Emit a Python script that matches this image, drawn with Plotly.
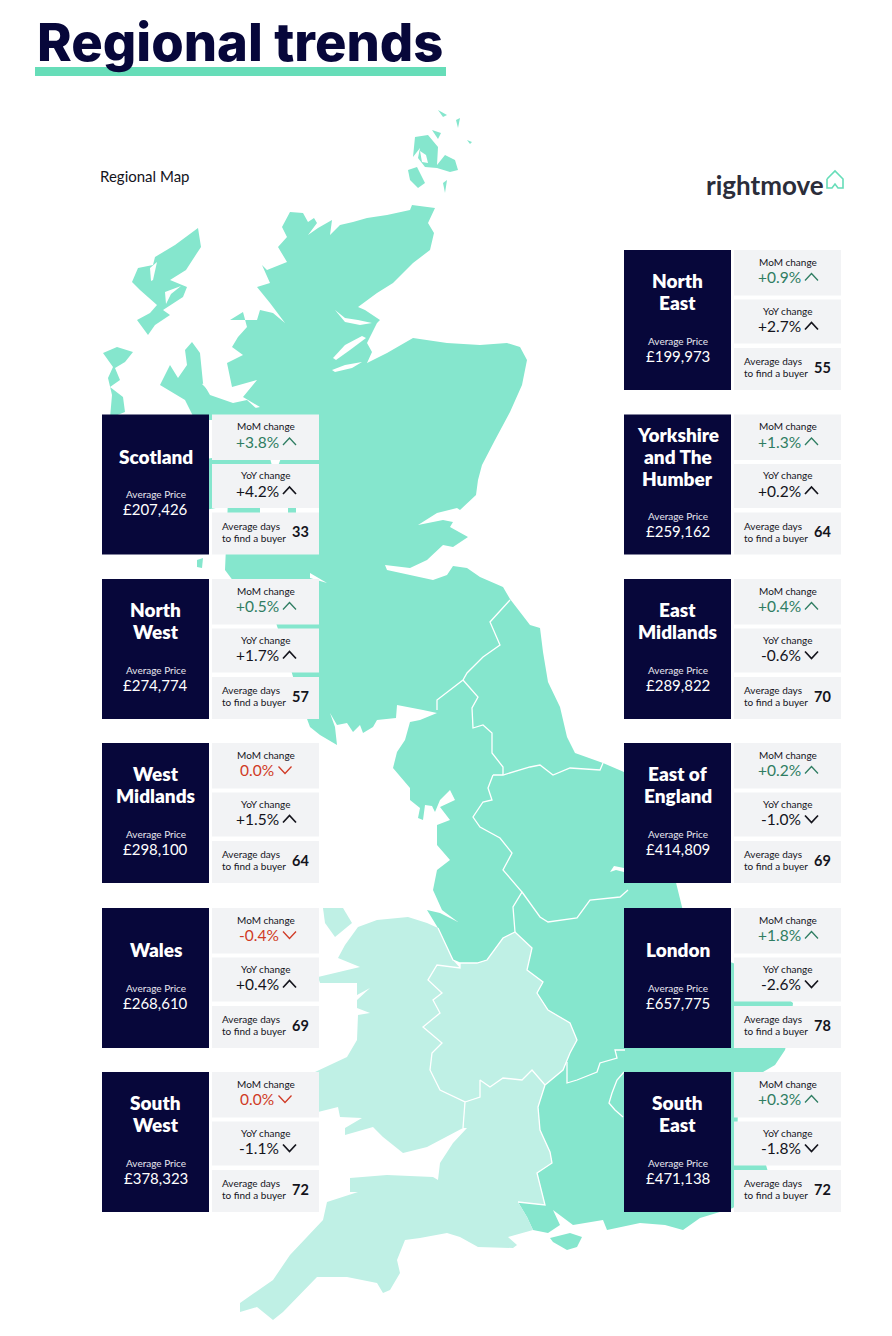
"""
Regional trends infographic: house prices by region on a map of Great Britain
"""

import plotly.graph_objects as go

# Card data, left column then right column
left_regions = ["Scotland", "North<br>West", "West<br>Midlands", "Wales", "South<br>West"]
left_prices = [207426, 274774, 298100, 268610, 378323]
left_mom = [3.8, 0.5, 0.0, -0.4, 0.0]
left_yoy = [4.2, 1.7, 1.5, 0.4, -1.1]
left_days = [33, 57, 64, 69, 72]

right_regions = ["North<br>East", "Yorkshire<br>and The<br>Humber", "East<br>Midlands",
                 "East of<br>England", "London", "South<br>East"]
right_prices = [199973, 259162, 289822, 414809, 657775, 471138]
right_mom = [0.9, 1.3, 0.4, 0.2, 1.8, 0.3]
right_yoy = [2.7, 0.2, -0.6, -1.0, -2.6, -1.8]
right_days = [55, 64, 70, 69, 78, 72]

# Map outlines, as (x, y) page pixels
deep_land = [
    (290, 212), (303, 213), (308, 222), (314, 218), (317, 223), (308, 235), (318, 228), (332, 220),
    (330, 235), (340, 225), (353, 222), (367, 218), (387, 215), (410, 210), (412, 205), (435, 208),
    (428, 223), (434, 233), (430, 250), (413, 263), (393, 283), (377, 293), (358, 307), (365, 310),
    (380, 320), (377, 323), (367, 343), (372, 352), (367, 363), (387, 353), (413, 338), (447, 343),
    (480, 345), (507, 343), (520, 347), (527, 360), (522, 385), (510, 412), (495, 440), (482, 465),
    (478, 480), (476, 495), (460, 510), (457, 508), (437, 513), (418, 525), (443, 520), (453, 522),
    (450, 527), (468, 537), (453, 547), (443, 545), (427, 560), (410, 568), (385, 565), (387, 570),
    (410, 575), (433, 580), (447, 575), (453, 566), (467, 568), (480, 577), (503, 587), (510, 599),
    (530, 625), (540, 628), (543, 652), (548, 682), (560, 707), (567, 737), (575, 753), (603, 763),
    (624, 772), (650, 800), (668, 850), (675, 880), (682, 907), (690, 935), (710, 955), (733, 963),
    (760, 975), (793, 1003), (790, 1030), (785, 1050), (775, 1065), (763, 1072), (750, 1090),
    (738, 1110), (737, 1140), (745, 1155), (766, 1165), (768, 1172), (745, 1195), (733, 1208),
    (700, 1218), (683, 1230), (665, 1225), (640, 1223), (607, 1230), (603, 1220), (573, 1225),
    (553, 1210), (560, 1225), (548, 1233), (533, 1230), (527, 1217), (518, 1202), (545, 1205),
    (537, 1173), (552, 1163), (550, 1152), (540, 1130), (538, 1107), (545, 1085), (563, 1070),
    (570, 1053), (577, 1040), (570, 1023), (548, 1010), (537, 993), (543, 982), (527, 970),
    (532, 948), (515, 932), (503, 938), (487, 960), (477, 963), (460, 963), (453, 960), (438, 928),
    (427, 910), (440, 913), (458, 922), (442, 910), (433, 890), (437, 870), (450, 860), (437, 845),
    (437, 825), (450, 820), (440, 807), (455, 800), (450, 790), (440, 800), (435, 812), (432, 806),
    (425, 805), (423, 820), (418, 818), (420, 808), (410, 800), (410, 788), (393, 768), (397, 752),
    (405, 740), (410, 722), (420, 720), (437, 713), (423, 710), (397, 705), (396, 718), (377, 720),
    (373, 727), (363, 733), (360, 725), (353, 732), (347, 723), (337, 725), (330, 713), (335, 727),
    (337, 745), (320, 735), (310, 727), (300, 700), (285, 650), (265, 590), (240, 590), (225, 570),
    (228, 500), (226, 462), (233, 413), (247, 410), (260, 407), (243, 397), (257, 380), (232, 387),
    (227, 363), (243, 355), (232, 347), (238, 337), (247, 327), (243, 312), (230, 320), (257, 320),
    (260, 310), (273, 313), (285, 323), (270, 303), (257, 287), (270, 283), (262, 265), (267, 270),
    (287, 262), (278, 247), (287, 237), (282, 227),
]
lewis = [(198, 228), (201, 247), (197, 253), (186, 270), (170, 280), (187, 287), (183, 297), (163, 310),
         (170, 315), (155, 325), (148, 335), (137, 320), (150, 313), (157, 305), (140, 290), (132, 282),
         (138, 268), (153, 265), (155, 257), (175, 245)]
skye = [(192, 342), (200, 353), (203, 383), (210, 395), (233, 403), (247, 400), (258, 410), (250, 420),
        (195, 420), (185, 400), (160, 385), (170, 365), (178, 378), (187, 365), (185, 350)]
uist = [(103, 353), (117, 347), (133, 352), (125, 362), (115, 368), (120, 380), (110, 387), (123, 397),
        (125, 412), (110, 418), (112, 395), (108, 378), (113, 367)]
mull = [(190, 462), (228, 455), (232, 505), (205, 510), (190, 495)]
jura = [(197, 560), (203, 558), (202, 568), (197, 567)]
orkney_main = [(415, 137), (428, 135), (438, 147), (437, 165), (445, 155), (455, 160), (458, 170), (450, 172),
               (437, 168), (425, 167), (418, 158), (420, 148), (413, 157)]
hoy = [(408, 170), (417, 167), (425, 183), (418, 188), (410, 180)]
ronaldsay = [(443, 183), (447, 180), (445, 193)]
sanday = [(432, 130), (441, 133), (438, 139)]
westray = [(438, 110), (447, 115), (443, 117)]
stronsay = [(467, 140), (472, 142), (470, 144)]
north_isles = [(456, 120), (460, 118), (458, 128)]
isle_of_wight = [(550, 1238), (570, 1233), (582, 1237), (577, 1247), (567, 1250), (553, 1242)]

wales = [(358, 927), (377, 920), (408, 917), (427, 923), (438, 928), (453, 960), (460, 968), (437, 965),
         (428, 980), (442, 993), (433, 1000), (440, 1013), (423, 1027), (442, 1043), (432, 1053), (430, 1070),
         (440, 1090), (465, 1102), (463, 1128), (427, 1147), (403, 1153), (383, 1137), (373, 1127), (345, 1135),
         (345, 1128), (362, 1118), (340, 1117), (338, 1107), (318, 1112), (315, 1072), (347, 1057), (357, 1040),
         (358, 1015), (370, 1013), (357, 1008), (357, 1000), (370, 988), (357, 995), (357, 983), (320, 983),
         (318, 977), (360, 967), (338, 958), (345, 945)]
anglesey = [(323, 908), (343, 908), (352, 923), (335, 937), (325, 923)]
south_west = [(467, 1128), (453, 1143), (440, 1163), (438, 1180), (433, 1177), (387, 1175), (350, 1178),
              (350, 1192), (358, 1192), (327, 1202), (323, 1220), (290, 1255), (273, 1280), (240, 1303),
              (240, 1312), (257, 1307), (273, 1320), (283, 1312), (317, 1277), (347, 1277), (377, 1283),
              (383, 1293), (390, 1290), (400, 1273), (397, 1260), (405, 1240), (420, 1238), (447, 1233),
              (460, 1237), (478, 1247), (513, 1248), (517, 1245), (508, 1237), (533, 1230), (527, 1217),
              (518, 1202), (545, 1205), (537, 1173), (552, 1163), (550, 1152), (540, 1130), (538, 1107),
              (545, 1085), (532, 1070), (522, 1080), (503, 1078), (490, 1087), (480, 1080), (480, 1097),
              (465, 1102), (463, 1128)]
west_midlands = [(460, 963), (477, 963), (487, 960), (503, 938), (515, 932), (532, 948), (527, 970), (543, 982),
                 (537, 993), (548, 1010), (570, 1023), (577, 1040), (570, 1053), (563, 1070), (545, 1085),
                 (532, 1070), (522, 1080), (503, 1078), (490, 1087), (480, 1080), (480, 1097), (465, 1102),
                 (440, 1090), (430, 1070), (432, 1053), (442, 1043), (423, 1027), (440, 1013), (433, 1000),
                 (442, 993), (428, 980), (437, 965), (460, 968)]

borders = [
    [(510, 600), (490, 622), (500, 645), (483, 657), (467, 673), (463, 680), (437, 700), (437, 710)],
    [(463, 680), (478, 697), (472, 708), (473, 728), (483, 725), (492, 733), (492, 753), (503, 767), (503, 775)],
    [(493, 775), (503, 775), (530, 767), (540, 765), (553, 775), (570, 768), (600, 770), (603, 763)],
    [(493, 775), (488, 788), (492, 800), (483, 802), (473, 817), (480, 827), (500, 838), (512, 853), (503, 870),
     (522, 892), (513, 907), (515, 932)],
    [(522, 892), (540, 917), (548, 922), (577, 918), (590, 900), (620, 897), (628, 890)],
    [(438, 928), (453, 960), (460, 963), (477, 963), (487, 960), (503, 938), (515, 932), (532, 948), (527, 970),
     (543, 982), (537, 993), (548, 1010), (570, 1023), (577, 1040), (570, 1053), (563, 1070), (545, 1085)],
    [(460, 963), (460, 968), (437, 965), (428, 980), (442, 993), (433, 1000), (440, 1013), (423, 1027),
     (442, 1043), (432, 1053), (430, 1070), (440, 1090), (465, 1102), (463, 1128)],
    [(465, 1102), (480, 1097), (480, 1080), (490, 1087), (503, 1078), (522, 1080), (532, 1070), (545, 1085)],
    [(545, 1085), (538, 1107), (540, 1130), (550, 1152), (552, 1163), (537, 1173), (545, 1205), (518, 1202)],
    [(567, 1062), (567, 1083), (577, 1080), (597, 1072), (600, 1063), (617, 1058), (615, 1050), (625, 1050)],
    [(624, 1072), (617, 1080), (612, 1093), (609, 1103), (615, 1110), (623, 1117)],
]

# Water cut out of the land
firths = [
    [(335, 310), (345, 318), (358, 320), (372, 323), (360, 325), (345, 322)],
    [(333, 358), (345, 345), (362, 336), (366, 338), (350, 350), (336, 360)],
    [(332, 370), (345, 365), (362, 362), (352, 368), (335, 372)],
    [(310, 573), (327, 583), (310, 578)],
    [(610, 872), (614, 866), (624, 868), (624, 872), (616, 870)],
    [(270, 458), (281, 458), (278, 466), (272, 466)],
    [(260, 506), (288, 506), (288, 515), (260, 515)],
    [(296, 506), (319, 506), (319, 515), (296, 515)],
    [(420, 151), (426, 155), (428, 163), (422, 162)],
    [(150, 268), (157, 262), (153, 280), (151, 281)],
    [(165, 292), (181, 286), (171, 294), (166, 304)],
    [(202, 384), (212, 380), (210, 392)],
]

logo_house = [(827, 179), (835, 171), (843, 179), (843, 188), (838, 188), (835, 184), (832, 188), (827, 188), (827, 179)]

NAVY = "#07073a"
DEEP = "#85e6cd"
LIGHT = "#bff0e5"
PANEL = "#f2f3f5"
GREEN = "#2f7d62"
RED = "#d03a25"
BLACK = "#14141c"
FONT = "Lato, sans-serif"


def add_land(fig, outline, color):
    xs = [p[0] for p in outline] + [outline[0][0]]
    ys = [p[1] for p in outline] + [outline[0][1]]
    fig.add_trace(go.Scatter(x=xs, y=ys, mode="lines", fill="toself", fillcolor=color,
                             line=dict(width=0, color=color), hoverinfo="skip", showlegend=False))


def add_text(fig, x, y, text, size, color, weight=400, anchor="center", family=FONT):
    fig.add_annotation(x=x, y=y, text=text, showarrow=False, xanchor=anchor, yanchor="middle",
                       align="left" if anchor == "left" else "center",
                       font=dict(family=family, size=size, color=color, weight=weight))


def add_rect(fig, x0, y0, x1, y1, color):
    fig.add_shape(type="rect", x0=x0, y0=y0, x1=x1, y1=y1, fillcolor=color, line_width=0, layer="above")


def add_chevron(fig, x, y, up, color, width):
    d = -1 if up else 1
    fig.add_shape(type="path", path=f"M {x - 6.5},{y - 3.5 * d} L {x},{y + 3.5 * d} L {x + 6.5},{y - 3.5 * d}",
                  line=dict(color=color, width=width), layer="above")


def change_text(v):
    return "0.0%" if v == 0 else f"{v:+.1f}%"


def add_change(fig, left, top, label, value, colored):
    mid = left + 163.5
    add_text(fig, mid, top + 11.5, label, 10, BLACK)
    if colored:
        color = GREEN if value > 0 else RED
    else:
        color = BLACK
    text = change_text(value)
    chev_x = mid + (24 if len(text) == 5 else 19.5)
    add_text(fig, chev_x - 9, top + 27, text, 15.5, color, anchor="right")
    add_chevron(fig, chev_x, top + 27, value > 0, color, 1.3 if colored else 1.7)


def add_card(fig, left, top, name, price, mom, yoy, days):
    add_rect(fig, left, top, left + 107, top + 140, NAVY)
    add_rect(fig, left + 110, top, left + 217, top + 45.5, PANEL)
    add_rect(fig, left + 110, top + 49.5, left + 217, top + 93.5, PANEL)
    add_rect(fig, left + 110, top + 98, left + 217, top + 140, PANEL)

    lines = name.split("<br>")
    extra = len(lines) - 1
    first = top + 41.5 - 11 * extra
    for i, line in enumerate(lines):
        add_text(fig, left + 53.5, first + 22 * i, line, 19, "white", weight=800)
    add_text(fig, left + 53.5, top + 79.5 + 11 * extra, "Average Price", 10, "#e8e8f0")
    add_text(fig, left + 53.5, top + 94.5 + 11 * extra, f"£{price:,}", 15, "white")

    add_change(fig, left, top, "MoM change", mom, True)
    add_change(fig, left, top + 49, "YoY change", yoy, False)

    add_text(fig, left + 117.5, top + 111, "Average days", 10, BLACK, anchor="left")
    add_text(fig, left + 117.5, top + 123, "to find a buyer", 10, BLACK, anchor="left")
    add_text(fig, left + 198.5, top + 117, str(days), 14.5, BLACK, weight=700)


def main():
    fig = go.Figure()

    for outline in [deep_land, lewis, skye, uist, mull, jura, orkney_main, hoy, ronaldsay, sanday, westray,
                    stronsay, north_isles, isle_of_wight]:
        add_land(fig, outline, DEEP)
    for outline in [wales, anglesey, south_west, west_midlands]:
        add_land(fig, outline, LIGHT)
    for outline in firths:
        add_land(fig, outline, "white")
    for border in borders:
        fig.add_trace(go.Scatter(x=[p[0] for p in border], y=[p[1] for p in border], mode="lines",
                                 line=dict(color="white", width=1.3), hoverinfo="skip", showlegend=False))

    # Logo mark
    fig.add_trace(go.Scatter(x=[p[0] for p in logo_house], y=[p[1] for p in logo_house], mode="lines",
                             line=dict(color="#66ddb8", width=1.6), hoverinfo="skip", showlegend=False))

    # Header
    add_rect(fig, 35, 67, 446, 76, "#66ddb8")
    add_text(fig, 35, 42, "Regional trends", 52.5, NAVY, weight=800, anchor="left", family="Inter, sans-serif")
    add_text(fig, 97.5, 175.5, "Regional Map", 15, BLACK, anchor="left")
    add_text(fig, 703.5, 185, "rightmove", 26, "#2b2d3a", weight=700, anchor="left")

    # Left column lines up with the lower five right-hand cards
    tops = [250, 414.5, 579, 743, 908, 1072]
    for i, name in enumerate(left_regions):
        add_card(fig, 102, tops[i + 1], name, left_prices[i], left_mom[i], left_yoy[i], left_days[i])
    for i, name in enumerate(right_regions):
        add_card(fig, 624, tops[i], name, right_prices[i], right_mom[i], right_yoy[i], right_days[i])

    fig.update_layout(
        width=892,
        height=1336,
        margin=dict(l=0, r=0, t=0, b=0),
        plot_bgcolor="white",
        paper_bgcolor="white",
        showlegend=False,
        xaxis=dict(range=[0, 892], visible=False, fixedrange=True),
        yaxis=dict(range=[1336, 0], visible=False, fixedrange=True),
    )

    fig.write_html("out.html", config={"displayModeBar": False},
                   post_script="document.body.style.margin='0';")


if __name__ == "__main__":
    main()
